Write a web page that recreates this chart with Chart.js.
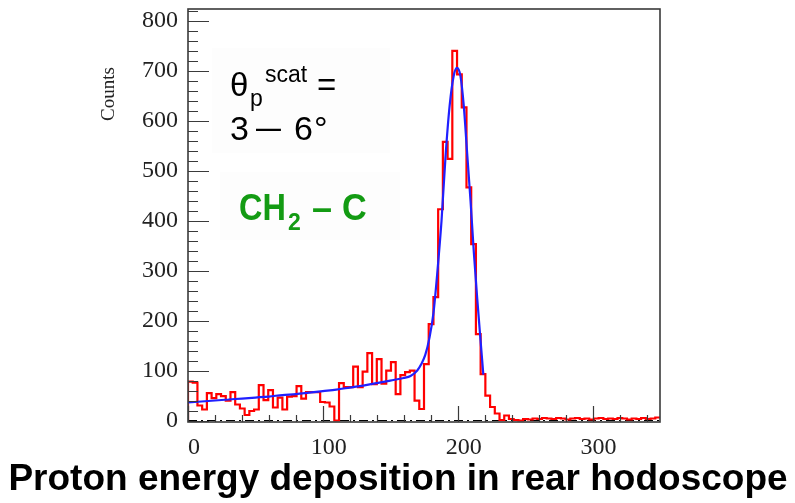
<!DOCTYPE html>
<html>
<head>
<meta charset="utf-8">
<script src="https://cdn.jsdelivr.net/npm/chart.js@4.4.0/dist/chart.umd.min.js"></script>
<style>
  html, body { margin: 0; padding: 0; background: #fff; }
  canvas { display: block; }
</style>
</head>
<body>
<canvas id="chart" width="795" height="503"></canvas>
<script>
// histogram: 100 bins of 3.5 from 0 to 350
const binWidth = 3.5;
const counts = [
    78, 76, 30, 22, 55, 45, 53, 49, 40, 57,
    32, 24, 11, 19, 22, 71, 41, 61, 26, 46,
    22, 48, 49, 69, 44, 57, 57, 57, 37, 36,
    28, 0, 75, 67, 67, 108, 67, 98, 135, 73,
    123, 74, 100, 117, 53, 91, 97, 100, 40, 23,
    113, 193, 247, 423, 558, 524, 740, 693, 627, 467,
    353, 173, 93, 50, 27, 14, 1, 10, 3, 1,
    0, 3, 2, 4, 3, 5, 4, 3, 5, 4,
    2, 4, 5, 3, 4, 2, 4, 5, 3, 4,
    3, 5, 4, 2, 4, 3, 5, 3, 4, 6
];

// fitted curve (blue)
const fitX = [0, 10, 20, 30, 40, 50, 60, 70, 80, 90, 100, 110, 120, 130, 140, 150, 160, 165, 170, 173,
    176, 179, 182, 185, 188, 191, 194, 197, 199.5, 202, 204.5, 207, 209.5, 212, 214.5, 217, 219];
const fitY = [36, 38, 40, 42, 44, 46, 48, 51, 53, 56, 59, 62, 66, 70, 75, 80, 85, 89, 100, 113,
    132, 165, 215, 300, 400, 530, 630, 690, 706, 690, 630, 535, 440, 335, 243, 158, 92];

const xTicks = [0, 100, 200, 300];
const yTicks = [0, 100, 200, 300, 400, 500, 600, 700, 800];

const histData = [{ x: 0, y: 0 }];
counts.forEach((c, i) => histData.push({ x: i * binWidth, y: c }));
histData.push({ x: counts.length * binWidth, y: counts[counts.length - 1] });

const fitData = fitX.map((x, i) => ({ x: x, y: fitY[i] }));

const sans = '"Liberation Sans", Arial, sans-serif';
const serif = '"Liberation Serif", "Times New Roman", serif';

// text with a horizontal stretch factor
function stretchedText(ctx, text, x, y, sx) {
    ctx.save();
    ctx.translate(x, y);
    ctx.scale(sx, 1);
    ctx.fillText(text, 0, 0);
    ctx.restore();
}

const decorations = {
    id: 'decorations',
    beforeDatasetsDraw(chart) {
        const ctx = chart.ctx;
        const xs = chart.scales.x, ys = chart.scales.y;
        ctx.save();
        // faint label boxes
        ctx.fillStyle = '#fdfdfd';
        ctx.fillRect(212, 48, 178, 105);
        ctx.fillRect(220, 172, 180, 68);
        // dash-dot line at zero
        ctx.strokeStyle = '#000';
        ctx.lineWidth = 1;
        ctx.setLineDash([9, 4, 2, 4]);
        const y0 = Math.round(ys.getPixelForValue(0)) - 0.5;
        ctx.beginPath();
        ctx.moveTo(xs.left, y0);
        ctx.lineTo(xs.right, y0);
        ctx.stroke();
        ctx.restore();
    },
    afterDraw(chart) {
        const ctx = chart.ctx;
        const area = chart.chartArea;
        const xs = chart.scales.x, ys = chart.scales.y;
        ctx.save();

        // frame
        ctx.strokeStyle = '#3a3a3a';
        ctx.lineWidth = 1.6;
        ctx.strokeRect(area.left, area.top, area.right - area.left, area.bottom - area.top);

        // inward ticks
        ctx.lineWidth = 1.2;
        ctx.beginPath();
        for (let v = 0; v <= 820; v += 20) {
            const py = Math.round(ys.getPixelForValue(v)) + 0.5;
            const len = v % 100 === 0 ? 21 : 10;
            ctx.moveTo(area.left, py);
            ctx.lineTo(area.left + len, py);
        }
        for (let v = 0; v <= 340; v += 20) {
            const px = Math.round(xs.getPixelForValue(v)) + 0.5;
            const len = v % 100 === 0 ? 16 : 7;
            ctx.moveTo(px, area.bottom);
            ctx.lineTo(px, area.bottom - len);
        }
        ctx.stroke();

        // y axis title
        ctx.fillStyle = '#222';
        ctx.font = '19px ' + serif;
        ctx.textAlign = 'center';
        ctx.textBaseline = 'alphabetic';
        ctx.translate(114, 94);
        ctx.rotate(-Math.PI / 2);
        ctx.fillText('Counts', 0, 0);
        ctx.setTransform(1, 0, 0, 1, 0, 0);

        // angle label
        ctx.textAlign = 'left';
        ctx.fillStyle = '#000';
        ctx.font = '33px ' + sans;
        ctx.fillText('\u03b8', 230, 96);
        ctx.fillText('=', 317, 96);
        ctx.font = '23px ' + sans;
        ctx.fillText('p', 250, 106);
        ctx.fillText('scat', 265, 82);
        ctx.font = '34px ' + sans;
        ctx.fillText('3', 230, 140);
        ctx.fillText('6', 294, 140);
        ctx.fillText('\u00b0', 314, 140);
        stretchedText(ctx, '\u2013', 256, 138, 1.32);

        // target label
        ctx.fillStyle = '#139b13';
        ctx.font = 'bold 36px ' + sans;
        stretchedText(ctx, 'CH', 239, 220, 0.9);
        ctx.fillText('\u2013', 312, 220);
        stretchedText(ctx, 'C', 342, 220, 0.95);
        ctx.font = 'bold 23px ' + sans;
        ctx.fillText('2', 288, 230);

        // caption
        ctx.fillStyle = '#000';
        ctx.font = 'bold 37px ' + sans;
        ctx.textAlign = 'center';
        ctx.fillText('Proton energy deposition in rear hodoscope', 398, 490);
        ctx.restore();
    }
};

new Chart(document.getElementById('chart'), {
    type: 'line',
    data: {
        datasets: [
            {
                label: 'fit',
                data: fitData,
                borderColor: '#2020ff',
                borderWidth: 2.2,
                pointRadius: 0,
                cubicInterpolationMode: 'monotone',
                fill: false
            },
            {
                label: 'counts',
                data: histData,
                borderColor: '#ff0000',
                borderWidth: 2.2,
                pointRadius: 0,
                stepped: 'before',
                fill: false
            }
        ]
    },
    options: {
        responsive: false,
        animation: false,
        devicePixelRatio: 1,
        layout: { padding: { left: 0, top: 9, right: 135, bottom: 0 } },
        plugins: {
            legend: { display: false },
            tooltip: { enabled: false }
        },
        scales: {
            x: {
                type: 'linear',
                min: 0,
                max: 350,
                grid: { display: false, drawTicks: false },
                border: { display: false },
                ticks: {
                    autoSkip: false,
                    maxRotation: 0,
                    padding: 11,
                    labelOffset: 6,
                    color: '#222',
                    font: { family: serif, size: 24 }
                },
                afterBuildTicks: (scale) => { scale.ticks = xTicks.map(v => ({ value: v })); },
                afterFit: (scale) => {
                    scale.height = 81;
                    scale.paddingLeft = 0;
                    scale.paddingRight = 0;
                }
            },
            y: {
                type: 'linear',
                min: -3,
                max: 824,
                grid: { display: false, drawTicks: false },
                border: { display: false },
                ticks: {
                    padding: 10,
                    color: '#222',
                    font: { family: serif, size: 24 }
                },
                afterBuildTicks: (scale) => { scale.ticks = yTicks.map(v => ({ value: v })); },
                afterFit: (scale) => {
                    scale.width = 188;
                    scale.paddingTop = 0;
                    scale.paddingBottom = 0;
                }
            }
        }
    },
    plugins: [decorations]
});
</script>
</body>
</html>
